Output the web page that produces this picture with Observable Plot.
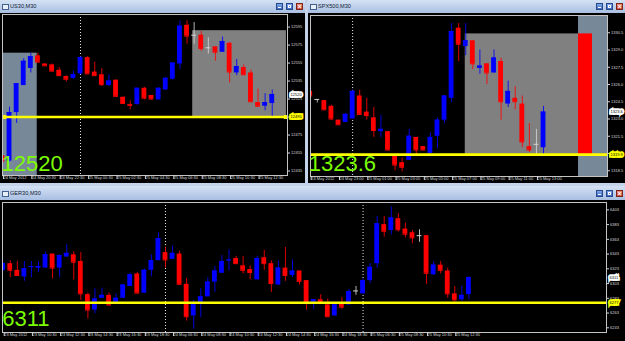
<!DOCTYPE html>
<html>
<head>
<meta charset="utf-8">
<script src="https://cdn.jsdelivr.net/npm/d3@7"></script>
<script src="https://cdn.jsdelivr.net/npm/@observablehq/plot@0.6"></script>
<style>
html,body{margin:0;padding:0}
body{width:625px;height:341px;position:relative;overflow:hidden;background:#c4d3ea;font-family:"Liberation Sans",Arial,sans-serif}
.win{position:absolute;background:#000;overflow:hidden}
.title{position:absolute;left:0;right:0;top:0;height:13px;background:linear-gradient(#d5e2f4,#a9bfe2)}
.ico{position:absolute;left:2px;top:4px;width:5px;height:4px;border:1px solid #41608f;background:#e8eef8}
.name{position:absolute;left:10px;top:0;line-height:13px;font-size:5.6px;color:#101c33}
.btns{position:absolute;right:2px;top:3px;display:flex;gap:3px}
.btn{position:relative;width:7px;height:7px;box-sizing:border-box;border:1px solid #27478a;background:linear-gradient(#7ea6e8,#3e6cc6)}
.btn.min::after{content:"";position:absolute;left:1px;bottom:1px;width:3px;height:1px;background:#fff}
.btn.max::after{content:"";position:absolute;left:1px;top:1px;width:3px;height:3px;box-sizing:border-box;border:1px solid #fff}
.btn.cls{background:linear-gradient(#f08a78,#c9402c);border-color:#7d2416}
.btn.cls::after{content:"\00d7";position:absolute;left:0;top:-1px;width:5px;text-align:center;font-size:7px;line-height:8px;color:#fff;font-weight:bold}
.chart{position:absolute;left:0}
</style>
</head>
<body>
<div class="win" id="w0" style="left:0;top:0;width:305px;height:183px"><div class="title"></div><div class="chart" id="c0" style="top:13px"></div></div>
<div class="win" id="w1" style="left:308px;top:0;width:317px;height:183px"><div class="title"></div><div class="chart" id="c1" style="top:13px"></div></div>
<div class="win" id="w2" style="left:0;top:186px;width:625px;height:155px"><div class="title" style="height:14px"></div><div class="chart" id="c2" style="top:14px"></div></div>
<script>
// ---------- DATA ----------
const panelTitles = ["US30,M30", "SPX500,M30", "GER30,M30"];

// [open, high, low, close] per 30-minute bar
const us30Ohlc = [
  [12452,12470,12444,12446],[12446,12506,12445,12500],[12500,12532,12488,12532],[12530,12560,12530,12557],
  [12549,12566,12544,12562],[12563,12566,12556,12556],[12554,12554,12552,12552],[12553,12554,12546,12546],
  [12547,12550,12541,12541],[12540,12541,12534,12537],[12538,12546,12537,12542],[12543,12562,12542,12561],
  [12561,12562,12543,12543],[12545,12556,12541,12541],[12542,12549,12529,12531],[12530,12542,12529,12535],
  [12536,12536,12518,12518],[12517,12517,12510,12510],[12509,12513,12503,12508],[12509,12527,12508,12527],
  [12527,12528,12514,12516],[12519,12519,12514,12515],[12514,12527,12514,12527],[12525,12539,12525,12538],
  [12537,12555,12536,12555],[12554,12602,12548,12596],[12597,12602,12576,12585],[12586,12600,12576,12586],
  [12586,12590,12568,12571],[12572,12583,12565,12572],[12573,12573,12557,12567],[12567,12584,12567,12579],
  [12577,12578,12533,12545],[12544,12559,12541,12551],[12550,12553,12542,12542],[12544,12547,12512,12512],
  [12511,12526,12507,12507],[12507,12521,12502,12511],[12510,12525,12495,12520]
];
const spxOhlc = [
  [1325.4,1325.4,1325.0,1325.0],[1324.7,1324.7,1324.4,1324.7],[1324.6,1324.6,1323.8,1323.8],[1324.1,1324.2,1322.9,1323.0],
  [1322.9,1322.9,1322.5,1322.5],[1322.7,1323.5,1322.7,1323.4],[1323.0,1325.5,1323.0,1325.4],[1325.0,1325.5,1323.4,1323.4],
  [1323.6,1324.8,1322.9,1323.3],[1323.1,1324.0,1321.4,1322.0],[1321.9,1323.3,1321.4,1322.1],[1321.9,1321.9,1320.3,1320.3],
  [1319.9,1319.9,1318.5,1319.0],[1319.2,1319.6,1318.4,1318.8],[1319.4,1322.1,1319.4,1321.5],[1321.4,1321.4,1319.9,1320.3],
  [1320.6,1320.6,1320.3,1320.3],[1320.0,1321.8,1320.0,1321.4],[1321.5,1323.1,1320.4,1322.9],[1322.9,1325.0,1322.6,1325.0],
  [1324.8,1331.3,1324.4,1330.6],[1330.9,1331.3,1328.0,1329.5],[1329.3,1331.3,1328.5,1329.8],[1329.8,1329.8,1327.3,1327.8],
  [1327.4,1329.0,1326.9,1327.6],[1327.8,1327.8,1326.0,1327.0],[1327.0,1329.0,1327.0,1328.3],[1328.0,1328.3,1322.9,1324.5],
  [1324.3,1326.3,1324.0,1325.4],[1324.8,1325.8,1323.8,1324.5],[1324.3,1325.0,1320.5,1321.0],[1320.6,1322.6,1320.1,1320.3],
  [1320.8,1322.1,1319.9,1320.8],[1320.5,1324.1,1319.9,1323.6]
];
const gerOhlc = [
  [6321,6331,6320,6330],[6330,6334,6311,6321],[6321,6333,6314,6314],[6312,6333,6306,6323],[6325,6333,6311,6326],
  [6324,6333,6318,6326],[6324,6346,6324,6342],[6343,6343,6309,6324],[6324,6342,6311,6341],[6339,6356,6339,6344],
  [6342,6346,6308,6332],[6333,6345,6280,6289],[6288,6290,6255,6267],[6267,6296,6262,6282],[6283,6297,6283,6287],
  [6287,6290,6272,6274],[6277,6289,6277,6283],[6283,6301,6283,6301],[6299,6317,6299,6315],[6316,6318,6290,6290],
  [6290,6323,6290,6321],[6321,6342,6312,6334],[6334,6372,6334,6364],[6345,6352,6324,6335],[6336,6354,6336,6344],
  [6343,6347,6302,6302],[6302,6310,6252,6258],[6259,6280,6241,6274],[6277,6296,6257,6285],[6285,6311,6285,6305],
  [6305,6326,6291,6320],[6317,6341,6317,6333],[6334,6349,6320,6335],[6337,6340,6330,6330],[6327,6340,6316,6321],
  [6322,6327,6308,6318],[6308,6340,6308,6337],[6338,6348,6321,6330],[6330,6334,6291,6303],[6301,6334,6301,6324],
  [6324,6352,6306,6314],[6314,6335,6311,6320],[6320,6320,6301,6306],[6307,6307,6267,6277],[6277,6281,6268,6281],
  [6281,6288,6277,6277],[6274,6282,6258,6258],[6259,6274,6259,6274],[6275,6284,6268,6271],[6274,6295,6274,6292],
  [6293,6299,6287,6293],[6289,6309,6289,6307],[6307,6330,6303,6325],[6330,6394,6324,6384],[6383,6394,6366,6374],
  [6375,6407,6369,6392],[6391,6398,6373,6376],[6377,6385,6365,6370],[6372,6375,6357,6365],[6368,6376,6359,6368],
  [6368,6368,6302,6317],[6315,6333,6314,6328],[6328,6333,6316,6321],[6320,6324,6283,6289],[6289,6299,6278,6281],
  [6281,6300,6279,6287],[6288,6312,6281,6311]
];

// price-axis ticks
const us30PriceTicks = [12595,12575,12555,12535,12515,12495,12475,12455,12435];
const spxPriceTicks = [1330.5,1329.0,1327.5,1326.0,1324.5,1323.0,1321.5,1320.0,1318.5];
const gerPriceTicks = [6403,6383,6363,6343,6323,6303,6283,6263,6243];

// time-axis ticks (bar index) and labels
const us30TimeTicks = [0,4,8,12,16,20,24,28,32,36];
const us30TimeLabels = ["24 May 2012","24 May 20:30","24 May 22:30","25 May 00:30","25 May 02:30","25 May 04:30","25 May 06:30","25 May 08:30","25 May 10:30","25 May 12:30"];
const spxTimeTicks = [0,4,8,12,16,20,24,28,32];
const spxTimeLabels = ["24 May 2012","24 May 23:00","25 May 01:00","25 May 03:00","25 May 05:00","25 May 07:00","25 May 09:00","25 May 11:00","25 May 13:00"];
const gerTimeTicks = [0,4,8,12,16,20,24,28,32,36,40,44,48,52,56,60,64];
const gerTimeLabels = ["23 May 2012","23 May 10:30","23 May 12:30","23 May 14:30","23 May 16:30","23 May 18:30","24 May 06:30","24 May 08:30","24 May 10:30","24 May 12:30","24 May 14:30","24 May 16:30","24 May 18:30","25 May 06:30","25 May 08:30","25 May 10:30","25 May 12:30"];

// day separators (bar index)
const us30Separators = [11];
const spxSeparators = [6];
const gerSeparators = [23, 51];

// horizontal level (yellow) and last price
const us30Level = 12495, us30Last = 12520;
const spxLevel = 1319.9, spxLast = 1323.6;
const gerLevel = 6277, gerLast = 6311;
const us30LevelHandles = [0.25, 39.9];

// rectangle objects (bar index / price)
const us30SlateZone = [{x1: -1, x2: 4.9, y1: 12566, y2: 12400}];
const us30GreyZone = [{x1: 26.8, x2: 40.0, y1: 12591, y2: 12494}];
const spxGreyZone = [{x1: 21.93, x2: 37.95, y1: 1330.4, y2: 1319.9}];
const spxSlateZone = [{x1: 37.95, x2: 45, y1: 1340, y2: 1310}];
const spxRedZone = [{x1: 37.95, x2: 39.93, y1: 1330.4, y2: 1319.9}];

// visible ranges
const us30XDomain = [0.01, 40.15], us30YDomain = [12430, 12609];
const spxXDomain = [0.04, 42.05], spxYDomain = [1318.0, 1332.0];
const gerXDomain = [-0.1, 85.5], gerYDomain = [6236.6, 6413];

// ---------- CHROME ----------
document.querySelectorAll(".title").forEach((t, k) => {
  t.innerHTML = '<div class="ico"></div><div class="name"></div><div class="btns"><div class="btn min"></div><div class="btn max"></div><div class="btn cls"></div></div>';
  t.querySelector(".name").textContent = panelTitles[k];
  if (k === 2) { t.querySelector(".name").style.lineHeight = "15px"; t.querySelector(".btns").style.top = "4px"; t.querySelector(".ico").style.top = "5px"; }
});

// ---------- DRAW ----------
const SLATE = "#778899", GREY = "#808080", RED = "#ff0000";
function drawPanel(p) {
  const rows = p.ohlc.map(([o, h, l, c], i) => ({i, o, h, l, c}));
  const color = d => d.o === d.c ? "#d4d4d4" : d.c > d.o ? "#0000ff" : "#ff0000";
  const half = 0.34;
  const labelOf = new Map(p.timeTicks.map((t, k) => [t, p.timeLabels[k]]));
  const marks = [
    ...p.zones.map(([data, fill]) => Plot.rect(data, {x1: "x1", x2: "x2", y1: "y1", y2: "y2", fill, clip: true})),
    Plot.ruleX(p.separators, {x: d => d, stroke: "#e6e6e6", strokeDasharray: "1,2", clip: true}),
    Plot.ruleX(rows, {x: "i", y1: "l", y2: "h", stroke: color, strokeOpacity: 0.85, clip: true}),
    Plot.rect(rows, {x1: d => d.i - half, x2: d => d.i + half, y1: "o", y2: "c", fill: color, clip: true}),
    Plot.ruleY(rows, {y: "c", x1: d => d.i - half, x2: d => d.i + half, stroke: color, clip: true}),
    Plot.ruleY([p.level], {y: d => d, stroke: "#ffff00", strokeWidth: 2.6}),
    p.handles ? Plot.dot(p.handles, {x: d => d, y: () => p.level, symbol: "square", r: 2.2, fill: "#ffff00"}) : null,
    Plot.frame({stroke: "#c4c4c4"}),
    Plot.axisY(p.yTicks, {anchor: "right", tickSize: 2, tickPadding: 1.5, fontSize: 4, tickFormat: p.fmt, label: null}),
    Plot.axisX(p.timeTicks, {anchor: "bottom", tickSize: 4, tickPadding: -3.6, fontSize: 4, textAnchor: "start", dx: 1, tickFormat: t => labelOf.get(t), label: null}),
    Plot.text([p.last], {y: d => d, frameAnchor: "right", dx: 3, textAnchor: "start", text: p.fmt, fontSize: 4, fill: "#000", stroke: "#fff", strokeWidth: 3.6, strokeLinejoin: "miter", paintOrder: "stroke"}),
    Plot.text([p.level], {y: d => d, frameAnchor: "right", dx: 3, textAnchor: "start", text: p.fmt, fontSize: 4, fill: "#000", stroke: "#ffff00", strokeWidth: 3.6, strokeLinejoin: "miter", paintOrder: "stroke"}),
    Plot.text([p.last], {frameAnchor: "bottom-left", text: p.fmt, fontSize: 22, fill: "#7CFC00", textAnchor: "start", lineAnchor: "bottom", dx: p.bigDx, dy: p.bigDy})
  ].filter(Boolean);
  const chart = Plot.plot({
    width: p.width, height: p.height,
    marginLeft: p.m[0], marginRight: p.m[1], marginTop: p.m[2], marginBottom: p.m[3],
    x: {type: "linear", domain: p.xDomain},
    y: {type: "linear", domain: p.yDomain},
    color: {type: "identity"},
    style: {background: "#000", color: "#d8d8d8", fontFamily: "'Liberation Sans', Arial, sans-serif", overflow: "visible"},
    marks
  });
  document.getElementById(p.el).appendChild(chart);
}

drawPanel({el: "c0", ohlc: us30Ohlc, width: 305, height: 170, m: [2, 18, 1, 8],
  xDomain: us30XDomain, yDomain: us30YDomain, yTicks: us30PriceTicks, fmt: d3.format("d"),
  timeTicks: us30TimeTicks, timeLabels: us30TimeLabels, separators: us30Separators,
  level: us30Level, last: us30Last, handles: us30LevelHandles,
  zones: [[us30SlateZone, SLATE], [us30GreyZone, GREY]], bigDx: -1, bigDy: -5});

drawPanel({el: "c1", ohlc: spxOhlc, width: 317, height: 170, m: [2, 18, 2, 7],
  xDomain: spxXDomain, yDomain: spxYDomain, yTicks: spxPriceTicks, fmt: d3.format(".1f"),
  timeTicks: spxTimeTicks, timeLabels: spxTimeLabels, separators: spxSeparators,
  level: spxLevel, last: spxLast,
  zones: [[spxGreyZone, GREY], [spxSlateZone, SLATE], [spxRedZone, RED]], bigDx: -1.7, bigDy: -6});

drawPanel({el: "c2", ohlc: gerOhlc, width: 625, height: 141, m: [2, 19, 2, 9],
  xDomain: gerXDomain, yDomain: gerYDomain, yTicks: gerPriceTicks, fmt: d3.format("d"),
  timeTicks: gerTimeTicks, timeLabels: gerTimeLabels, separators: gerSeparators,
  level: gerLevel, last: gerLast,
  zones: [], bigDx: -0.3, bigDy: -6.3});
</script>
</body>
</html>
